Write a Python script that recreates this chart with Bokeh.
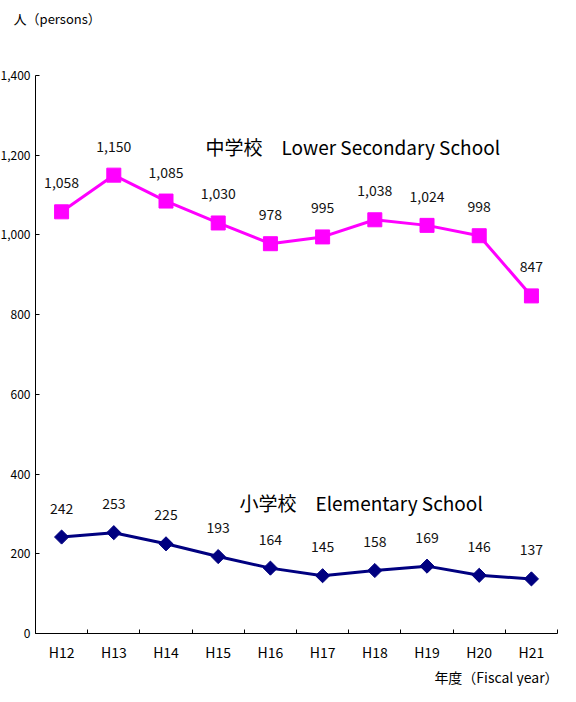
from bokeh.plotting import figure
from bokeh.models import ColumnDataSource, FixedTicker, NumeralTickFormatter, Range1d, LabelSet, Label
from bokeh.core.properties import value
from bokeh.embed import file_html
from bokeh.resources import INLINE
import math

years = ["H12", "H13", "H14", "H15", "H16", "H17", "H18", "H19", "H20", "H21"]
lower_secondary = [1058, 1150, 1085, 1030, 978, 995, 1038, 1024, 998, 847]
elementary = [242, 253, 225, 193, 164, 145, 158, 169, 146, 137]
y_ticks = [0, 200, 400, 600, 800, 1000, 1200, 1400]

FONT = "Noto Sans CJK JP"

n = len(years)
xs = [i + 0.5 for i in range(n)]

def fmt(v):
    return f"{v:,}"

src_ls = ColumnDataSource(dict(x=xs, y=lower_secondary, t=[fmt(v) for v in lower_secondary]))
src_el = ColumnDataSource(dict(x=xs, y=elementary, t=[fmt(v) for v in elementary]))

# frame fills the canvas; axes are pinned at x=0 / y=0 inside it
p = figure(width=560, height=686, output_backend="svg", toolbar_location=None,
           x_range=Range1d(-0.6705, 10.057), y_range=Range1d(-132.98, 1588.2),
           min_border_left=0, min_border_right=0, min_border_top=0, min_border_bottom=0)
p.outline_line_color = None
p.xgrid.visible = False
p.ygrid.visible = False
p.background_fill_color = "white"
p.border_fill_color = "white"

# y axis
p.yaxis.fixed_location = 0
p.yaxis.bounds = (0, 1400)
p.yaxis.ticker = FixedTicker(ticks=y_ticks)
p.yaxis.formatter = NumeralTickFormatter(format="0,0")
p.yaxis.major_tick_in = 4
p.yaxis.major_tick_out = 0
p.yaxis.minor_tick_line_color = None
p.yaxis.axis_line_color = "black"
p.yaxis.major_label_standoff = 5
p.yaxis.major_label_text_font = FONT
p.yaxis.major_label_text_font_size = "12px"
p.yaxis.major_label_text_color = "black"

# x axis
p.xaxis.fixed_location = 0
p.xaxis.bounds = (0, n)
p.xaxis.ticker = FixedTicker(ticks=xs, minor_ticks=list(range(n + 1)))
p.xaxis.major_label_overrides = {x: y for x, y in zip(xs, years)}
p.xaxis.major_tick_line_color = None
p.xaxis.minor_tick_in = 4
p.xaxis.minor_tick_out = 0
p.xaxis.minor_tick_line_color = "black"
p.xaxis.axis_line_color = "black"
p.xaxis.major_label_standoff = 3
p.xaxis.major_label_text_font = FONT
p.xaxis.major_label_text_font_size = "14px"
p.xaxis.major_label_text_color = "black"

# series
p.line("x", "y", source=src_ls, line_color="#FF00FF", line_width=3)
p.scatter("x", "y", source=src_ls, marker="square", size=14, fill_color="#FF00FF", line_color="#FF00FF")
p.line("x", "y", source=src_el, line_color="#000080", line_width=3)
p.scatter("x", "y", source=src_el, marker="square", angle=math.pi / 4, size=10,
          fill_color="#000080", line_color="#000080")

for src in (src_ls, src_el):
    p.add_layout(LabelSet(x="x", y="y", text="t", source=src, y_offset=29,
                          text_align="center", text_baseline="middle",
                          text_font=value(FONT), text_font_size=value("14px"),
                          text_color="#111111"))

p.add_layout(Label(x=3.257, y=1222, text="中学校\u3000Lower Secondary School", text_align="left",
                   text_baseline="middle", text_font=FONT, text_font_size="19px", text_color="black"))
p.add_layout(Label(x=3.908, y=329, text="小学校\u3000Elementary School", text_align="left",
                   text_baseline="middle", text_font=FONT, text_font_size="19px", text_color="black"))
p.add_layout(Label(x=-0.42, y=1543, text="人（persons）", text_align="left",
                   text_baseline="middle", text_font=FONT, text_font_size="13px", text_color="black"))
p.add_layout(Label(x=10.02, y=-108, text="年度（Fiscal year）", text_align="right",
                   text_baseline="middle", text_font=FONT, text_font_size="14px", text_color="black"))

open("out.html", "w").write(file_html(p, INLINE))
